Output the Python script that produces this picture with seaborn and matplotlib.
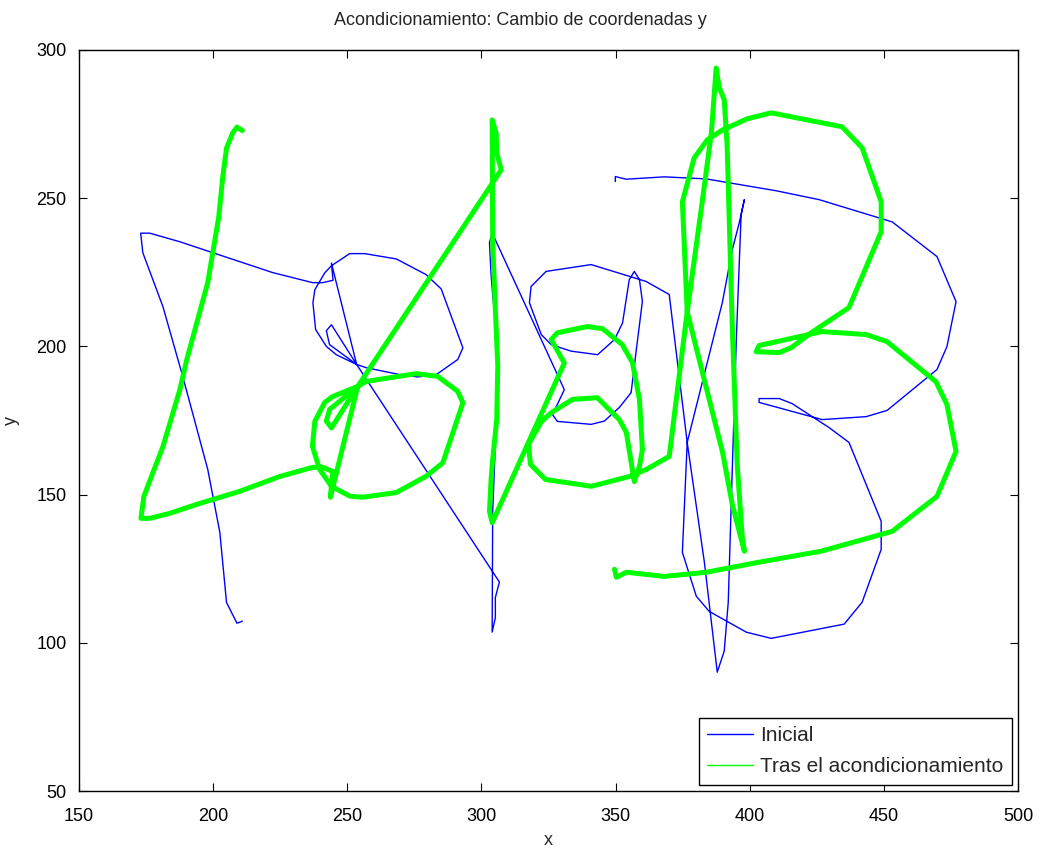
import pandas as pd
import seaborn as sns
import matplotlib.pyplot as plt
from matplotlib.lines import Line2D

# trazo inicial (azul)
inicial_x = [210.9, 208.9, 205.0, 202.5, 198.0, 195.0, 188.7, 181.3, 173.8, 173.0,
             176.4, 187.6, 199.9, 222.2, 237.1, 240.8, 244.7, 244.1, 253.5, 245.9,
             242.2, 238.2, 237.2, 237.9, 241.6, 244.1, 250.9, 256.5, 268.3, 279.4,
             285.0, 293.1, 291.2, 283.2, 276.3, 269.5, 257.1, 253.5, 243.4, 242.2,
             244.1, 253.5, 306.7, 305.2, 305.2, 304.0, 304.2, 305.2, 306.1, 305.7,
             304.2, 303.6, 303.0, 304.0, 330.9, 326.5, 328.3, 340.9, 345.8, 351.4,
             355.8, 357.6, 360.0, 358.9, 357.0, 355.1, 352.6, 349.6, 343.3, 333.4,
             326.0, 322.3, 317.9, 318.5, 324.1, 340.9, 361.4, 370.0, 376.7, 383.1,
             387.9, 390.5, 392.0, 393.5, 395.0, 396.8, 398.0, 396.1, 393.5, 389.8,
             386.8, 376.7, 374.9, 380.1, 384.9, 398.7, 408.0, 435.2, 441.9, 449.0,
             449.0, 437.0, 429.6, 415.8, 411.0, 403.5, 403.5, 427.0, 443.4, 451.2,
             469.8, 473.5, 476.9, 469.8, 453.1, 425.9, 409.9, 383.8, 368.2, 353.9,
             349.9, 349.9]
inicial_y = [107.3, 106.6, 113.6, 137.3, 158.5, 168.6, 189.8, 213.4, 231.6, 238.2,
             238.2, 235.3, 231.6, 224.9, 221.5, 221.5, 222.3, 228.1, 193.9, 197.2,
             200.0, 205.7, 214.7, 219.1, 224.8, 227.2, 231.3, 231.3, 229.5, 224.2,
             219.4, 199.5, 195.6, 190.5, 189.7, 190.5, 192.8, 193.9, 200.6, 205.3,
             207.3, 193.9, 120.5, 115.3, 108.5, 103.6, 144.3, 166.9, 186.1, 204.0,
             217.5, 224.2, 235.0, 238.3, 185.4, 177.0, 174.7, 173.7, 174.8, 179.4,
             184.4, 197.9, 215.2, 222.5, 225.3, 222.5, 207.9, 202.3, 197.2, 198.4,
             200.6, 204.0, 214.7, 220.2, 225.3, 227.6, 221.9, 217.5, 167.6, 127.2,
             90.1, 97.2, 113.7, 158.5, 202.3, 244.4, 249.5, 241.7, 232.6, 214.8,
             204.0, 167.6, 130.5, 115.7, 110.6, 103.6, 101.5, 106.3, 113.7, 131.5,
             141.0, 167.6, 172.6, 180.7, 182.4, 182.4, 181.1, 175.3, 176.3, 178.4,
             192.2, 199.9, 215.1, 230.3, 242.0, 249.5, 252.5, 256.5, 257.2, 256.4,
             257.3, 255.6]

# trazo tras el acondicionamiento (verde)
tras_x = [210.9, 208.9, 207.3, 205.0, 203.6, 202.1, 198.0, 190.2, 187.6, 181.3,
          177.6, 174.2, 173.1, 176.4, 183.9, 193.9, 209.9, 224.8, 237.1, 240.8,
          244.6, 243.7, 253.9, 244.6, 241.6, 237.9, 237.0, 239.7, 244.1, 250.9,
          255.7, 268.3, 279.4, 285.6, 293.1, 291.1, 283.7, 275.7, 257.1, 253.9,
          243.4, 242.2, 244.1, 253.9, 307.4, 305.7, 305.5, 304.0, 304.2, 305.2,
          306.1, 305.7, 304.2, 303.6, 303.0, 304.0, 330.9, 326.0, 328.3, 339.5,
          345.1, 352.5, 356.3, 358.9, 360.0, 358.9, 357.0, 354.0, 351.4, 343.2,
          333.9, 326.1, 322.4, 317.5, 318.3, 323.9, 341.0, 355.1, 361.5, 370.0,
          376.7, 381.9, 385.7, 387.5, 388.6, 390.5, 391.6, 393.5, 395.3, 397.2,
          398.0, 396.1, 393.5, 389.8, 386.8, 376.7, 374.9, 379.3, 384.2, 389.8,
          399.1, 408.0, 434.4, 441.9, 449.0, 449.0, 437.0, 428.5, 422.9, 415.5,
          411.0, 402.4, 403.5, 427.0, 443.4, 451.2, 469.4, 473.5, 476.9, 469.8,
          453.1, 426.6, 403.5, 383.8, 368.2, 354.0, 350.3, 349.6]
tras_y = [272.8, 274.0, 272.0, 266.9, 257.2, 243.7, 221.5, 195.6, 185.4, 166.2,
          157.5, 149.4, 142.0, 142.0, 143.7, 146.7, 151.1, 156.1, 159.2, 159.2,
          157.8, 149.1, 186.5, 183.1, 181.1, 174.7, 166.3, 158.5, 152.8, 149.5,
          149.1, 150.7, 156.2, 160.7, 181.0, 184.9, 189.9, 190.8, 188.2, 186.5,
          178.7, 174.8, 172.5, 186.5, 259.6, 265.2, 271.9, 276.4, 235.0, 212.4,
          193.3, 175.3, 161.9, 155.1, 144.4, 140.5, 194.4, 202.3, 204.6, 206.7,
          206.0, 200.6, 194.5, 182.1, 165.2, 159.5, 154.4, 171.0, 175.3, 182.7,
          182.1, 177.7, 174.7, 166.9, 160.2, 155.1, 152.8, 156.1, 158.5, 162.9,
          211.7, 246.1, 272.0, 293.9, 287.5, 283.2, 267.3, 206.7, 160.8, 135.9,
          130.9, 137.6, 146.7, 164.6, 175.3, 211.7, 248.8, 263.6, 269.7, 273.0,
          276.8, 278.8, 274.1, 267.0, 248.8, 238.7, 213.1, 208.0, 204.6, 199.6,
          197.9, 198.2, 200.3, 205.0, 204.0, 201.6, 188.1, 180.4, 164.6, 149.4,
          137.6, 130.9, 127.2, 123.8, 122.4, 123.8, 122.1, 124.8]

xticks = [150, 200, 250, 300, 350, 400, 450, 500]
yticks = [50, 100, 150, 200, 250, 300]

sns.set_style("ticks")
plt.rcParams['font.family'] = ['Liberation Sans', 'DejaVu Sans']

df_ini = pd.DataFrame({"x": inicial_x, "y": inicial_y})
df_tras = pd.DataFrame({"x": tras_x, "y": tras_y})

fig = plt.figure(figsize=(10.39, 8.5), dpi=100)
ax = fig.add_axes([0.076, 0.0694, 0.9038, 0.8718])

sns.lineplot(data=df_ini, x="x", y="y", sort=False, estimator=None,
             color="#0000ff", linewidth=1.0, ax=ax)
sns.lineplot(data=df_tras, x="x", y="y", sort=False, estimator=None,
             color="#00ff00", linewidth=3.6, ax=ax)

ax.set_xlim(150, 500)
ax.set_ylim(50, 300)
ax.set_xticks(xticks)
ax.set_yticks(yticks)
ax.tick_params(direction="in", length=6, width=0.8, top=True, right=True,
               labelsize=13, colors="black")
ax.tick_params(axis="x", pad=12)
ax.tick_params(axis="y", pad=9)
for s in ax.spines.values():
    s.set_visible(True)
    s.set_linewidth(1.0)
    s.set_color("black")

ax.set_title("Acondicionamiento: Cambio de coordenadas y", fontsize=13, pad=18, x=0.47)
ax.set_xlabel("x", fontsize=13, labelpad=5)
ax.set_ylabel("y", fontsize=13, labelpad=12)

handles = [Line2D([0], [0], color="#0000ff", linewidth=1.0),
           Line2D([0], [0], color="#00ff00", linewidth=1.0)]
leg = ax.legend(handles, ["Inicial", "Tras el acondicionamiento"], loc="lower right",
                fontsize=15, fancybox=False, framealpha=1, edgecolor="black",
                borderaxespad=0.3, handlelength=2.2, handletextpad=0.35,
                borderpad=0.4, labelspacing=0.6)
leg.get_frame().set_linewidth(1.0)

fig.savefig("out.png", dpi=100)
